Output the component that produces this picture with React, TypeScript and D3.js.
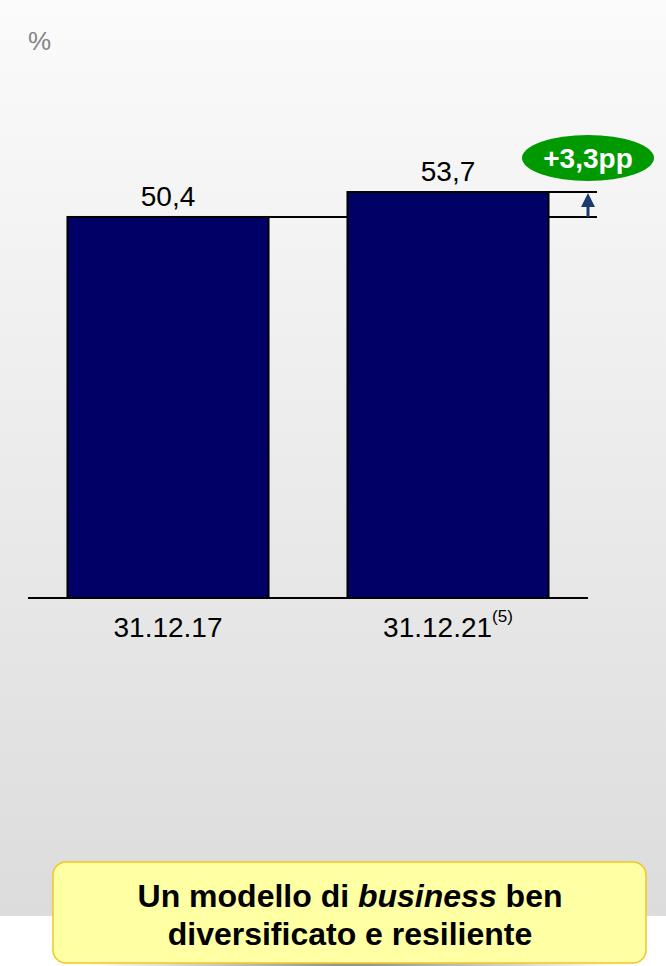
import * as d3 from "d3";

const categories = ["31.12.17", "31.12.21"];
const footnotes = ["", "(5)"];
const values = [50.4, 53.7];
const valueLabels = ["50,4", "53,7"];
const deltaLabel = "+3,3pp";
const unitLabel = "%";
const boxLines = [
  [{ t: "Un modello di ", i: false }, { t: "business", i: true }, { t: " ben", i: false }],
  [{ t: "diversificato e resiliente", i: false }],
];

const W = 666;
const H = 966;
const FONT = "'Liberation Sans', Arial, sans-serif";

const App = () => {
  const x = d3
    .scaleBand<string>()
    .domain(categories)
    .range([28, 588])
    .paddingInner(0.282)
    .paddingOuter(0.141);
  const base = 598;
  const y = d3.scaleLinear().domain([0, 60]).range([base, base - 7.56 * 60]);

  const x1 = x(categories[0])!;
  const x2 = x(categories[1])!;
  const bw = x.bandwidth();
  const yLow = y(values[0]);
  const yHigh = y(values[1]);
  const lineEnd = 597;
  const arrowX = 588;

  return (
    <div style={{ position: "absolute", left: 0, top: 0 }}>
      <svg width={W} height={H} style={{ display: "block" }}>
        <defs>
          <linearGradient id="bg" x1="0" y1="0" x2="0" y2="1">
            <stop offset="0" stopColor="#fbfbfb" />
            <stop offset="1" stopColor="#dcdcdc" />
          </linearGradient>
          <radialGradient id="shadow" cx="0.5" cy="0.5" r="0.5">
            <stop offset="0" stopColor="#7a7a7a" stopOpacity={0.9} />
            <stop offset="1" stopColor="#8a8a8a" stopOpacity={0} />
          </radialGradient>
        </defs>
        <rect x={0} y={0} width={W} height={H} fill="#ffffff" />
        <rect x={0} y={0} width={W} height={916} fill="url(#bg)" />

        <text x={28} y={50} fontFamily={FONT} fontSize={26} fill="#858585">
          {unitLabel}
        </text>

        {/* reference lines for the delta */}
        <line x1={x1 + bw} x2={lineEnd} y1={yLow} y2={yLow} stroke="#000" strokeWidth={2} />
        <line x1={x2 + bw} x2={lineEnd} y1={yHigh} y2={yHigh} stroke="#000" strokeWidth={2} />

        {categories.map((c, i) => (
          <rect
            key={c}
            x={x(c)}
            y={y(values[i])}
            width={bw}
            height={base - y(values[i])}
            fill="#000066"
            stroke="#000"
            strokeWidth={2}
          />
        ))}

        <line x1={28} x2={588} y1={base} y2={base} stroke="#000" strokeWidth={2} />

        {categories.map((c, i) => (
          <text
            key={"v" + c}
            x={x(c)! + bw / 2}
            y={y(values[i]) - 11}
            textAnchor="middle"
            fontFamily={FONT}
            fontSize={28}
            fill="#000"
          >
            {valueLabels[i]}
          </text>
        ))}

        {categories.map((c, i) => (
          <text
            key={"c" + c}
            x={x(c)! + bw / 2}
            y={637}
            textAnchor="middle"
            fontFamily={FONT}
            fontSize={28}
            fill="#000"
          >
            {c}
            {footnotes[i] && (
              <tspan fontSize={17} dy={-15}>
                {footnotes[i]}
              </tspan>
            )}
          </text>
        ))}

        {/* arrow */}
        <line x1={arrowX} x2={arrowX} y1={yLow} y2={yHigh + 12} stroke="#1b3a6e" strokeWidth={3} />
        <path
          d={`M${arrowX},${yHigh + 1} L${arrowX - 7},${yHigh + 15} L${arrowX + 7},${yHigh + 15} Z`}
          fill="#1b3a6e"
        />

        {/* delta badge */}
        <ellipse cx={588} cy={158} rx={66} ry={23} fill="#009a00" />
        <text
          x={588}
          y={168}
          textAnchor="middle"
          fontFamily={FONT}
          fontWeight="bold"
          fontSize={28}
          fill="#fff"
        >
          {deltaLabel}
        </text>

        {/* comment box */}
        <ellipse cx={350} cy={965} rx={270} ry={6} fill="url(#shadow)" />
        <rect
          x={53}
          y={862}
          width={593}
          height={101}
          rx={13}
          ry={13}
          fill="#ffffa3"
          stroke="#f2c61f"
          strokeWidth={1.5}
        />
        {boxLines.map((line, li) => (
          <text
            key={li}
            x={350}
            y={907 + li * 38}
            textAnchor="middle"
            fontFamily={FONT}
            fontWeight="bold"
            fontSize={32}
            fill="#000"
          >
            {line.map((s, si) => (
              <tspan key={si} fontStyle={s.i ? "italic" : "normal"}>
                {s.t}
              </tspan>
            ))}
          </text>
        ))}
      </svg>
    </div>
  );
};

export default App;
